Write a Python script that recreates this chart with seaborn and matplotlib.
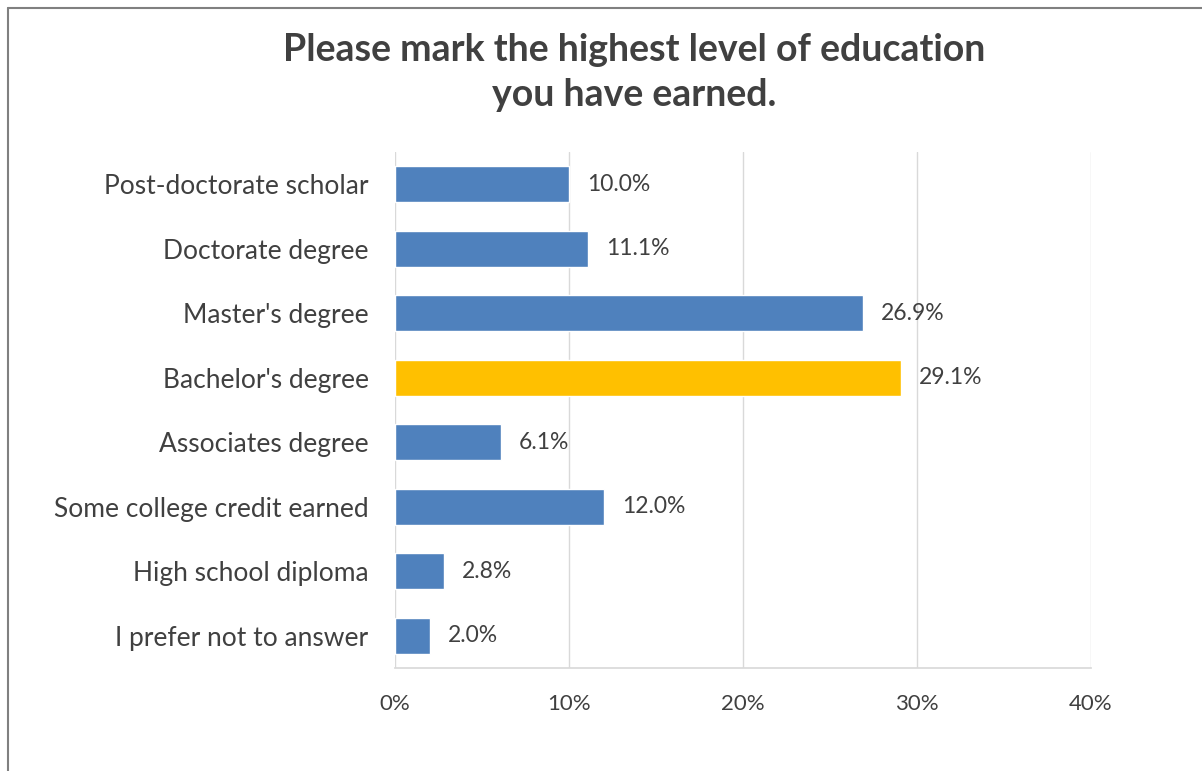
import matplotlib
matplotlib.use("Agg")
import matplotlib.pyplot as plt
from matplotlib.lines import Line2D
from matplotlib.ticker import FuncFormatter, MultipleLocator
import seaborn as sns
import pandas as pd

categories = [
    "Post-doctorate scholar",
    "Doctorate degree",
    "Master's degree",
    "Bachelor's degree",
    "Associates degree",
    "Some college credit earned",
    "High school diploma",
    "I prefer not to answer",
]
percent = [10.0, 11.1, 26.9, 29.1, 6.1, 12.0, 2.8, 2.0]
highlight = "Bachelor's degree"

BLUE = "#4F81BD"
GOLD = "#FFC000"
TEXT = "#404040"

sns.set_theme(style="white")
plt.rcParams["font.family"] = ["Lato", "DejaVu Sans"]

df = pd.DataFrame({"category": categories, "percent": percent})
df["group"] = ["top" if c == highlight else "other" for c in categories]

fig = plt.figure(figsize=(12.02, 7.71), dpi=100)
ax = fig.add_axes([0.3286, 0.1336, 0.5790, 0.6693])

sns.barplot(
    data=df, x="percent", y="category", hue="group",
    palette={"other": BLUE, "top": GOLD}, order=categories,
    orient="h", width=0.56, legend=False, dodge=False, ax=ax,
    saturation=1,
)

ax.set_xlim(0, 40)
ax.xaxis.set_major_locator(MultipleLocator(10))
ax.xaxis.set_major_formatter(FuncFormatter(lambda v, _: f"{v:.0f}%"))
ax.grid(axis="x", color="#D9D9D9", linewidth=1)
ax.set_axisbelow(True)
ax.set_xlabel("")
ax.set_ylabel("")
for side in ("top", "right", "left"):
    ax.spines[side].set_visible(False)
ax.spines["bottom"].set_color("#D9D9D9")
ax.tick_params(axis="both", length=0, colors=TEXT)
ax.tick_params(axis="x", pad=19, labelsize=16)
ax.tick_params(axis="y", pad=19, labelsize=19)

for cat, val in zip(categories, percent):
    ax.annotate(f"{val:.1f}%", xy=(val, cat), xytext=(13, 0),
                textcoords="offset points", va="center", ha="left",
                fontsize=16.5, color=TEXT)

fig.text(0.528, 0.906, "Please mark the highest level of education\nyou have earned.",
         ha="center", va="center", fontsize=27, fontweight="bold",
         color=TEXT, linespacing=1.38)

# chart frame edges
fig.add_artist(Line2D([0.0067, 1.0], [0.9896, 0.9896], color="#808080", linewidth=1.5))
fig.add_artist(Line2D([0.0067, 0.0067], [0.0, 0.9896], color="#808080", linewidth=1.5))

fig.savefig("out.png", dpi=100, facecolor="white")
